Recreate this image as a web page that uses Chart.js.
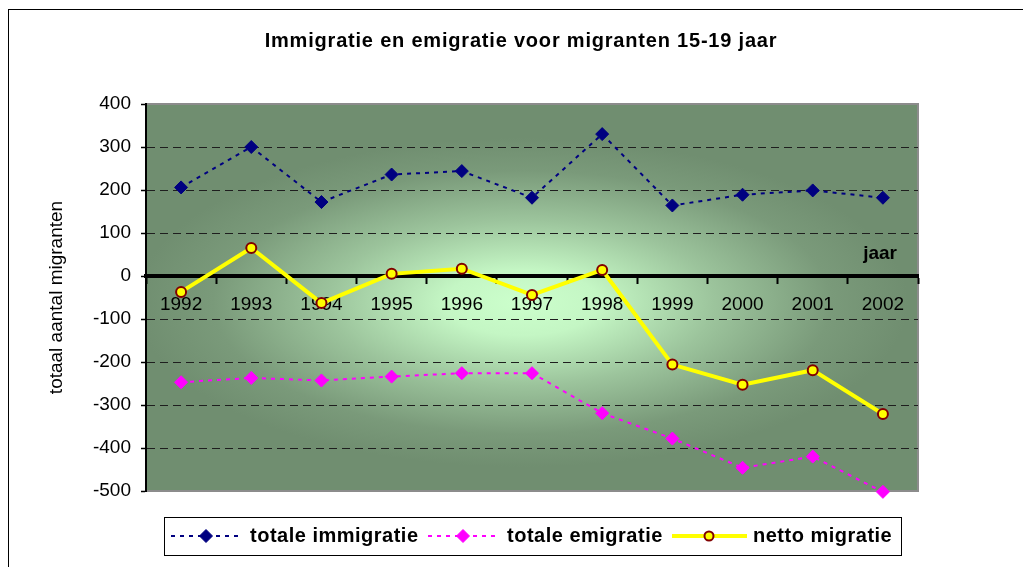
<!DOCTYPE html>
<html>
<head>
<meta charset="utf-8">
<script src="https://cdn.jsdelivr.net/npm/chart.js@4/dist/chart.umd.min.js"></script>
<style>
  html, body { margin: 0; padding: 0; background: #fff; }
  #wrap { width: 1023px; height: 567px; position: relative; }
</style>
</head>
<body>
<div id="wrap"><canvas id="c" width="1023" height="567"></canvas></div>
<script>
const chartTitle = 'Immigratie en emigratie voor migranten 15-19 jaar';
const yAxisTitle = 'totaal aantal migranten';
const xAxisTitle = 'jaar';
const years = ['1992', '1993', '1994', '1995', '1996', '1997', '1998', '1999', '2000', '2001', '2002'];
const seriesNames = ['totale immigratie', 'totale emigratie', 'netto migratie'];
const immigratie = [206, 300, 172, 236, 244, 182, 330, 164, 189, 199, 182];
const emigratie = [-247, -237, -243, -234, -226, -226, -319, -378, -446, -420, -502];
const netto = [-37, 65, -63, 5, 17, -44, 14, -206, -253, -219, -321];
const yMin = -500, yMax = 400, yStep = 100;

const FONT = "'Liberation Sans', Arial, sans-serif";

const decor = {
  id: 'decor',
  beforeDraw(chart) {
    const { ctx, chartArea: a } = chart;
    ctx.save();
    ctx.fillStyle = '#ffffff';
    ctx.fillRect(0, 0, chart.width, chart.height);
    ctx.strokeStyle = '#000';
    ctx.lineWidth = 1;
    ctx.strokeRect(8.5, 9.5, chart.width + 20, chart.height + 20);
    ctx.restore();

    const cx = (a.left + a.right) / 2 - 10, cy = (a.top + a.bottom) / 2 + 5;
    const rx = (a.right - a.left) / 2, ry = (a.bottom - a.top) / 2;
    ctx.save();
    ctx.beginPath();
    ctx.rect(a.left, a.top, a.right - a.left, a.bottom - a.top);
    ctx.clip();
    ctx.translate(cx, cy);
    ctx.scale(1, ry / rx * 0.85);
    const g = ctx.createRadialGradient(0, 0, 0, 0, 0, rx);
    g.addColorStop(0, '#ccffcc');
    g.addColorStop(0.2, '#c4f6c4');
    g.addColorStop(0.5, '#9cc49c');
    g.addColorStop(0.8, '#7a9a7a');
    g.addColorStop(1, '#708e70');
    ctx.fillStyle = g;
    ctx.fillRect(-rx * 2, -rx * 3, rx * 4, rx * 6);
    ctx.restore();

    ctx.save();
    ctx.strokeStyle = '#8c8c8c';
    ctx.lineWidth = 2;
    ctx.beginPath();
    ctx.moveTo(a.left, a.top);
    ctx.lineTo(a.right, a.top);
    ctx.lineTo(a.right, a.bottom);
    ctx.lineTo(a.left, a.bottom);
    ctx.stroke();
    ctx.restore();
  },
  afterDraw(chart) {
    const ctx = chart.ctx;
    ctx.save();
    // title
    ctx.fillStyle = '#000';
    ctx.font = 'bold 20px ' + FONT;
    ctx.letterSpacing = '0.8px';
    ctx.textAlign = 'center';
    ctx.textBaseline = 'middle';
    ctx.fillText(chartTitle, 521, 41);
    // x axis title
    ctx.font = 'bold 19px ' + FONT;
    ctx.letterSpacing = '0px';
    ctx.textAlign = 'right';
    ctx.textBaseline = 'alphabetic';
    ctx.fillText(xAxisTitle, 897, 259);

    // legend
    const bx = 164.5, by = 517.5, bw = 737, bh = 38;
    ctx.fillStyle = '#fff';
    ctx.fillRect(bx, by, bw, bh);
    ctx.strokeStyle = '#000';
    ctx.lineWidth = 1;
    ctx.strokeRect(bx, by, bw, bh);
    const items = [
      { x1: 171, x2: 241, mx: 206, tx: 250 },
      { x1: 428, x2: 498, mx: 463, tx: 507 },
      { x1: 672, x2: 747, mx: 709, tx: 753 }
    ];
    const ly = 536;
    chart.data.datasets.forEach((ds, i) => {
      const it = items[i];
      ctx.save();
      ctx.strokeStyle = ds.borderColor;
      ctx.lineWidth = ds.borderWidth;
      ctx.setLineDash(ds.borderDash || []);
      ctx.beginPath();
      ctx.moveTo(it.x1, ly);
      ctx.lineTo(it.x2, ly);
      ctx.stroke();
      ctx.restore();
      ctx.save();
      ctx.fillStyle = ds.pointBackgroundColor;
      ctx.strokeStyle = ds.pointBorderColor;
      ctx.lineWidth = ds.pointBorderWidth;
      ctx.beginPath();
      if (ds.pointStyle === 'rectRot') {
        const r = 6.5;
        ctx.moveTo(it.mx, ly - r);
        ctx.lineTo(it.mx + r, ly);
        ctx.lineTo(it.mx, ly + r);
        ctx.lineTo(it.mx - r, ly);
        ctx.closePath();
      } else {
        ctx.arc(it.mx, ly, 4.5, 0, Math.PI * 2);
      }
      ctx.fill();
      ctx.stroke();
      ctx.restore();
      ctx.fillStyle = '#000';
      ctx.font = 'bold 20px ' + FONT;
      ctx.letterSpacing = '0.5px';
      ctx.textAlign = 'left';
      ctx.textBaseline = 'middle';
      ctx.fillText(ds.label, it.tx, ly);
    });
    ctx.restore();
  }
};

new Chart(document.getElementById('c'), {
  type: 'line',
  data: {
    labels: years,
    datasets: [
      {
        label: seriesNames[0], data: immigratie,
        borderColor: '#000080', borderWidth: 2, borderDash: [4, 5],
        pointStyle: 'rectRot', pointRadius: 6.5, pointBackgroundColor: '#000080',
        pointBorderColor: '#000080', pointBorderWidth: 1, clip: false, tension: 0
      },
      {
        label: seriesNames[1], data: emigratie,
        borderColor: '#ff00ff', borderWidth: 2, borderDash: [4, 5],
        pointStyle: 'rectRot', pointRadius: 6.5, pointBackgroundColor: '#ff00ff',
        pointBorderColor: '#ff00ff', pointBorderWidth: 1, clip: false, tension: 0
      },
      {
        label: seriesNames[2], data: netto,
        borderColor: '#ffff00', borderWidth: 4,
        pointStyle: 'circle', pointRadius: 5, pointBackgroundColor: '#ffff00',
        pointBorderColor: '#800000', pointBorderWidth: 2, clip: false, tension: 0
      }
    ]
  },
  options: {
    responsive: false,
    animation: false,
    events: [],
    layout: { padding: { top: 104, right: 105, bottom: 76, left: 0 } },
    plugins: { legend: { display: false }, title: { display: false }, tooltip: { enabled: false } },
    scales: {
      x: {
        type: 'category',
        position: { y: 0 },
        offset: true,
        grid: { drawOnChartArea: false, drawTicks: true, tickLength: 6, tickWidth: 2, tickColor: '#000', offset: true },
        border: { color: '#000', width: 4 },
        ticks: { color: '#000', font: { size: 19, family: FONT }, padding: 11, maxRotation: 0, autoSkip: false }
      },
      y: {
        position: 'left',
        min: yMin, max: yMax,
        ticks: { stepSize: yStep, color: '#000', font: { size: 19, family: FONT }, padding: 10 },
        grid: {
          color: (c) => (c.tick && (c.tick.value === yMax || c.tick.value === yMin || c.tick.value === 0)) ? 'rgba(0,0,0,0)' : '#1e1e1e',
          lineWidth: 1, tickColor: '#000', tickLength: 5, tickWidth: 1.5
        },
        border: { color: '#000', width: 2, dash: [8, 5] },
        title: { display: true, text: yAxisTitle, color: '#000', font: { size: 19, family: FONT }, padding: { top: 45, bottom: 0 } },
        afterFit(s) { s.width = 146; }
      }
    }
  },
  plugins: [decor]
});
</script>
</body>
</html>
